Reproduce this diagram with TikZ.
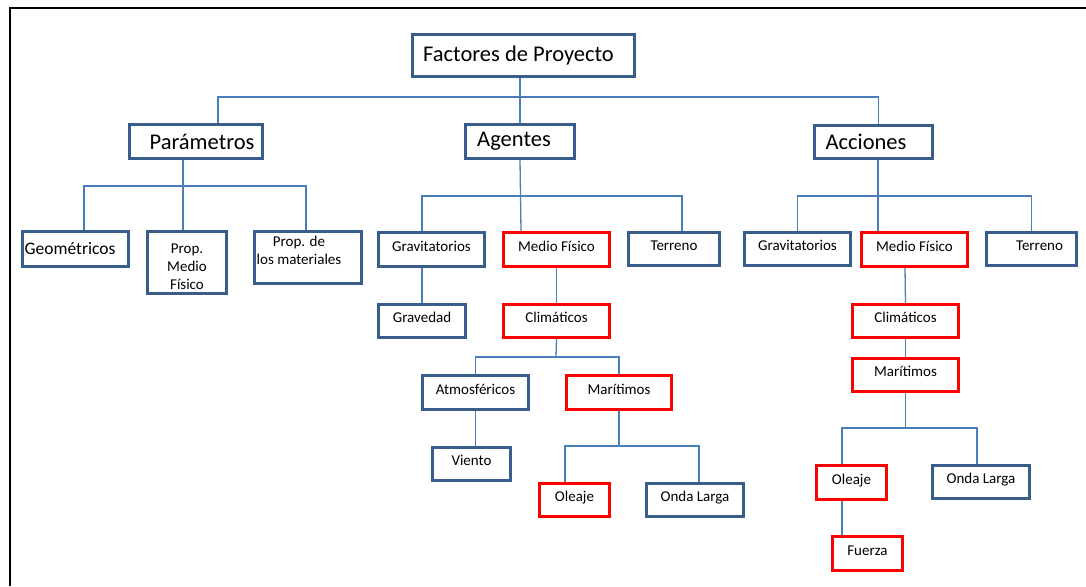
\documentclass[tikz,border=0pt]{standalone}
\usepackage{fontspec}
\setmainfont{Carlito}
\usepackage{tikz}
\definecolor{boxblue}{HTML}{385D8A}
\definecolor{linkblue}{HTML}{4A7EBB}
\tikzstyle{box} = [draw=boxblue,line width=3pt,inner sep=2pt,align=center,font=\fontsize{15}{18}\selectfont]
\tikzstyle{redbox} = [box,draw=red]
\tikzstyle{one} = [text height=10pt,text depth=7pt]
\tikzstyle{big} = [font=\fontsize{22.5}{26}\selectfont]
\tikzstyle{link} = [draw=linkblue,line width=1.3pt]

\begin{document}
\begin{tikzpicture}[x=1pt,y=-1pt]
            \useasboundingbox (0,0) rectangle (1086,586);
            \draw[line width=2pt] (10,586) -- (10,8) -- (1086,8);
            % level 0 and 1
            \node[box,big,minimum width=222pt,minimum height=42pt] (fdp) at (523.5,55.5) {Factores de Proyecto\hspace*{10pt}};
            \node[box,big,minimum width=133pt,minimum height=34pt] (par) at (196,141.5) {\hspace*{12pt}Parámetros};
            \node[box,big,minimum width=109pt,minimum height=34pt] (age) at (520,141.5) {Agentes\hspace*{12pt}};
            \node[box,big,minimum width=118pt,minimum height=33pt] (acc) at (873.5,142) {Acciones\hspace*{15pt}};
            % parametros
            \node[box,font=\fontsize{17.5}{20}\selectfont,minimum width=106pt,minimum height=35pt] (geo) at (75.5,249) {Geométricos\hspace*{11pt}};
            \node[box,minimum width=79pt,minimum height=62pt] (pmf) at (187,262.5) {\rule{0pt}{18pt}Prop.\\Medio\\Físico};
            \node[box,minimum width=105pt,minimum height=52pt] (pdm) at (308,257.5) {\mbox{Prop. de\hspace{18pt}}\\\mbox{los materiales\hspace{18pt}}\\[-4pt]\mbox{}};
            % agentes
            \node[box,one,minimum width=106pt,minimum height=34pt] (gra) at (431.5,249.5) {Gravitatorios};
            \node[redbox,one,minimum width=106pt,minimum height=34pt] (mfa) at (556.5,249.5) {Medio Físico};
            \node[box,one,minimum width=91pt,minimum height=33pt] (tea) at (674,249) {Terreno};
            \node[box,one,minimum width=87pt,minimum height=33pt] (grd) at (422,321) {Gravedad};
            \node[redbox,one,minimum width=106pt,minimum height=33pt] (cla) at (556.5,321) {Climáticos};
            \node[box,one,minimum width=106pt,minimum height=34pt] (atm) at (475.5,392.5) {Atmosféricos};
            \node[redbox,one,minimum width=105pt,minimum height=34pt] (maa) at (619,392.5) {Marítimos};
            \node[box,one,minimum width=78pt,minimum height=33pt] (vie) at (471.5,464) {Viento};
            \node[redbox,one,minimum width=70pt,minimum height=33pt] (ola) at (574.5,500) {Oleaje};
            \node[box,one,minimum width=97pt,minimum height=33pt] (ona) at (695,500) {Onda Larga};
            % acciones
            \node[box,one,minimum width=106pt,minimum height=33pt] (grb) at (797.5,249) {Gravitatorios};
            \node[redbox,one,minimum width=106pt,minimum height=34pt] (mfb) at (914.5,249.5) {Medio Físico};
            \node[box,one,minimum width=90pt,minimum height=33pt] (teb) at (1031.5,249) {\hspace*{16pt}Terreno};
            \node[redbox,one,minimum width=106pt,minimum height=33pt] (clb) at (905.5,321) {Climáticos};
            \node[redbox,one,minimum width=106pt,minimum height=33pt] (mab) at (905.5,375) {Marítimos};
            \node[redbox,one,minimum width=70pt,minimum height=34pt] (olb) at (851.5,482.5) {Oleaje};
            \node[box,one,minimum width=97pt,minimum height=33pt] (onb) at (981,482) {Onda Larga};
            \node[redbox,one,minimum width=70pt,minimum height=34pt] (fue) at (867.5,553.5) {Fuerza};
            % buses
            \coordinate (bus1) at (520,97);
            \coordinate (bus2) at (183,186);
            \coordinate (bus3) at (521,196);
            \coordinate (bus4) at (878,196);
            \coordinate (bus5) at (556,357);
            \coordinate (bus6) at (619,446);
            \coordinate (bus7) at (905.5,428);
            % connectors
            \draw[link] ([xshift=-3.5pt]fdp.south) -- (age.north);
            \draw[link] ([xshift=22pt]par.north) |- (bus1) -| ([xshift=5pt]acc.north);
            \draw[link] ([xshift=-13pt]par.south) -- ([xshift=-4pt]pmf.north);
            \draw[link] ([xshift=8.5pt]geo.north) |- (bus2) -| ([xshift=-2pt]pdm.north);
            \draw[link] (age.south) -- ([xshift=-35.5pt]mfa.north);
            \draw[link] ([xshift=-9.5pt]gra.north) |- (bus3) -| ([xshift=8pt]tea.north);
            \draw[link] ([xshift=4.5pt]acc.south) -- ([xshift=-36.5pt]mfb.north);
            \draw[link] (grb.north) |- (bus4) -| (teb.north);
            \draw[link] ([xshift=-9.5pt]gra.south) -- (grd.north);
            \draw[link] (mfa.south) -- (cla.north);
            \draw[link] (cla.south) -- (bus5);
            \draw[link] (atm.north) |- (bus5) -| (maa.north);
            \draw[link] (atm.south) -- ([xshift=4pt]vie.north);
            \draw[link] (maa.south) -- (bus6);
            \draw[link] ([xshift=-9.5pt]ola.north) |- (bus6) -| ([xshift=4pt]ona.north);
            \draw[link] ([xshift=-9.5pt]mfb.south) -- (clb.north);
            \draw[link] (clb.south) -- (mab.north);
            \draw[link] (mab.south) -- (bus7);
            \draw[link] ([xshift=-9.5pt]olb.north) |- (bus7) -| ([xshift=-4pt]onb.north);
            \draw[link] ([xshift=-9.5pt]olb.south) -- ([xshift=-25.5pt]fue.north);
        \end{tikzpicture}
\end{document}
